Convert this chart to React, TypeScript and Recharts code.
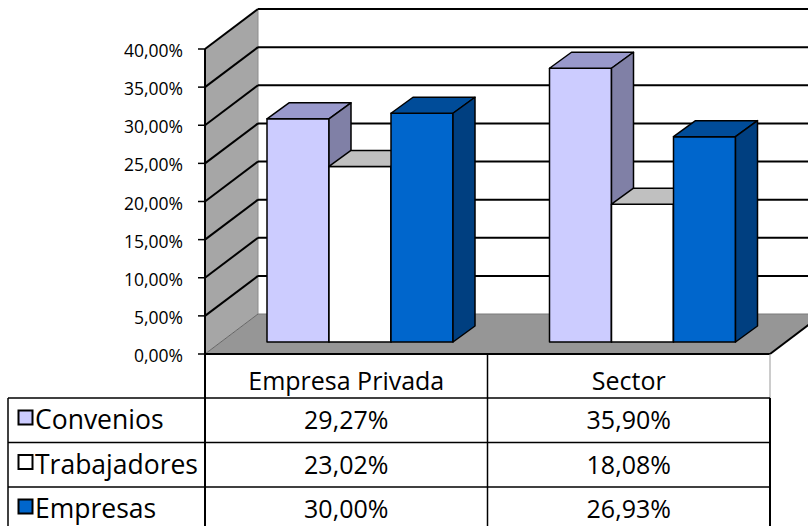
import { BarChart, Bar, XAxis, YAxis, CartesianGrid } from 'recharts'

const categories = ['Empresa Privada', 'Sector']
const convenios = [29.27, 35.9]
const trabajadores = [23.02, 18.08]
const empresas = [30.0, 26.93]
const yTicks = [0, 5, 10, 15, 20, 25, 30, 35, 40]

const seriesNames = ['Convenios', 'Trabajadores', 'Empresas']
const seriesKeys = ['convenios', 'trabajadores', 'empresas']
const seriesValues = [convenios, trabajadores, empresas]
// front, top, side
const seriesColors = [
  ['#CCCCFF', '#9999CC', '#8080A6'],
  ['#FFFFFF', '#C0C0C0', '#A0A0A0'],
  ['#0066CC', '#004C99', '#003F80'],
]

const W = 808
const H = 526
const Y_AXIS_W = 60
const MARGIN = { top: 37, right: 24, bottom: 0, left: 159 }
const X_AXIS_H = 184
const PLOT_LEFT = MARGIN.left + Y_AXIS_W
const PLOT_RIGHT = W - MARGIN.right
const PLOT_TOP = MARGIN.top
const PLOT_BOTTOM = H - X_AXIS_H

// offsets of front and back planes relative to the plane the bars sit in
const FRONT_DX = -14
const FRONT_DY = 12
const BACK_DX = 39
const BACK_DY = -28
// bar depth
const BAR_DX = 22
const BAR_DY = 16

const HEADER_TOP = PLOT_BOTTOM + FRONT_DY
const ROW_TOP = 398
const ROW_H = 44.5
const FONT = '"Open Sans", sans-serif'

function pct(v: number) {
  return v.toFixed(2).replace('.', ',') + '%'
}

const chartData = categories.map((c, i) => ({
  category: c,
  convenios: convenios[i],
  trabajadores: trabajadores[i],
  empresas: empresas[i],
}))

function Box3D(props: any) {
  const { x, y, width, height, colors } = props
  if (width == null || height == null) return null
  const [front, top, side] = colors
  const stroke = { stroke: '#000', strokeWidth: 1.5, strokeLinejoin: 'round' as const }
  return (
    <g>
      <rect x={x} y={y} width={width} height={height} fill={front} {...stroke} />
      <polygon
        points={`${x},${y} ${x + BAR_DX},${y - BAR_DY} ${x + width + BAR_DX},${y - BAR_DY} ${x + width},${y}`}
        fill={top}
        {...stroke}
      />
      <polygon
        points={`${x + width},${y} ${x + width + BAR_DX},${y - BAR_DY} ${x + width + BAR_DX},${y + height - BAR_DY} ${x + width},${y + height}`}
        fill={side}
        {...stroke}
      />
    </g>
  )
}

// walls and floor, drawn once from the baseline grid line
function WallLine(props: any) {
  const { y1 } = props
  if (Math.abs(y1 - PLOT_BOTTOM) > 1) return <g />
  const fl = PLOT_LEFT + FRONT_DX
  const fr = PLOT_RIGHT + FRONT_DX
  const bl = PLOT_LEFT + BACK_DX
  const br = PLOT_RIGHT + BACK_DX
  const fTop = PLOT_TOP + FRONT_DY
  const fBot = PLOT_BOTTOM + FRONT_DY
  const bTop = PLOT_TOP + BACK_DY
  const bBot = PLOT_BOTTOM + BACK_DY
  return (
    <g>
      <polygon points={`${fl},${fTop} ${bl},${bTop} ${bl},${bBot} ${fl},${fBot}`} fill="#A6A6A6" />
      <line x1={bl} y1={bTop} x2={bl} y2={bBot} stroke="#8C8C8C" strokeWidth={1} />
      <polygon points={`${fl},${fBot} ${bl},${bBot} ${br},${bBot} ${fr},${fBot}`} fill="#969696" />
      <line x1={fl} y1={fBot} x2={bl} y2={bBot} stroke="#666" strokeWidth={1} />
      <line x1={bl} y1={bBot} x2={br} y2={bBot} stroke="#7A7A7A" strokeWidth={1} />
      <line x1={fl} y1={fBot} x2={fr} y2={fBot} stroke="#000" strokeWidth={2} />
      <line x1={fr} y1={fBot} x2={br} y2={bBot} stroke="#000" strokeWidth={2} />
      <line x1={fl} y1={fTop} x2={fl} y2={fBot} stroke="#000" strokeWidth={2} />
    </g>
  )
}

function GridLine(props: any) {
  const { x1, x2, y1 } = props
  if (Math.abs(y1 - PLOT_BOTTOM) < 1) return <g />
  return (
    <g>
      <line x1={x1 + FRONT_DX} y1={y1 + FRONT_DY} x2={x1 + BACK_DX} y2={y1 + BACK_DY} stroke="#000" strokeWidth={2} />
      <line x1={x1 + BACK_DX} y1={y1 + BACK_DY} x2={x2 + BACK_DX} y2={y1 + BACK_DY} stroke="#000" strokeWidth={2} />
    </g>
  )
}

function YTick(props: any) {
  const { y, payload } = props
  const fy = y + FRONT_DY
  const fx = PLOT_LEFT + FRONT_DX
  return (
    <g>
      <line x1={fx - 7} y1={fy} x2={fx} y2={fy} stroke="#000" strokeWidth={1.5} />
      <text x={fx - 22} y={fy + 8} textAnchor="end" fontSize={17.5} fill="#000" fontFamily={FONT}>
        {pct(payload.value)}
      </text>
    </g>
  )
}

function TableColumn(props: any) {
  const { x, payload } = props
  const i = payload.index
  const band = (PLOT_RIGHT - PLOT_LEFT) / categories.length
  const cx = x + FRONT_DX
  const left = cx - band / 2
  const right = cx + band / 2
  const last = i === categories.length - 1
  const rows = seriesNames.map((_, r) => ROW_TOP + r * ROW_H)
  return (
    <g fontFamily={FONT} fill="#000">
      {last ? (
        <>
          <line x1={right} y1={HEADER_TOP} x2={right} y2={ROW_TOP} stroke="#999" strokeWidth={1} />
          <line x1={right} y1={ROW_TOP} x2={right} y2={H} stroke="#000" strokeWidth={2} />
        </>
      ) : (
        <line x1={right} y1={HEADER_TOP} x2={right} y2={H} stroke="#000" strokeWidth={1.5} />
      )}
      {rows.map(ry => (
        <line key={ry} x1={left} y1={ry} x2={right} y2={ry} stroke="#000" strokeWidth={1.5} />
      ))}
      <text x={cx} y={HEADER_TOP + 36} textAnchor="middle" fontSize={25}>
        {categories[i]}
      </text>
      {seriesValues.map((vals, r) => (
        <text key={r} x={cx} y={rows[r] + 31} textAnchor="middle" fontSize={25}>
          {pct(vals[i])}
        </text>
      ))}
      {i === 0 && (
        <g>
          <line x1={left} y1={HEADER_TOP} x2={left} y2={H} stroke="#000" strokeWidth={2} />
          <line x1={8} y1={ROW_TOP} x2={8} y2={H} stroke="#000" strokeWidth={1.5} />
          {rows.map(ry => (
            <line key={ry} x1={8} y1={ry} x2={left} y2={ry} stroke="#000" strokeWidth={1.5} />
          ))}
          {seriesNames.map((name, r) => (
            <g key={name}>
              <rect
                x={18.5}
                y={rows[r] + 12.5}
                width={14}
                height={14}
                fill={seriesColors[r][0]}
                stroke="#000"
                strokeWidth={2}
              />
              <text x={35} y={rows[r] + 31} fontSize={26.5}>
                {name}
              </text>
            </g>
          ))}
        </g>
      )}
    </g>
  )
}

export default function App() {
  return (
    <div style={{ width: W, height: H, fontFamily: FONT, background: '#fff' }}>
      <style>{'body{margin:0}'}</style>
      <BarChart width={W} height={H} data={chartData} margin={MARGIN} barGap={0} barCategoryGap={48}>
        <CartesianGrid vertical={false} horizontal={WallLine} />
        <CartesianGrid vertical={false} horizontal={GridLine} />
        <XAxis
          dataKey="category"
          height={X_AXIS_H}
          axisLine={false}
          tickLine={false}
          interval={0}
          tick={TableColumn}
        />
        <YAxis
          width={Y_AXIS_W}
          domain={[0, 40]}
          ticks={yTicks}
          axisLine={false}
          tickLine={false}
          tick={YTick}
        />
        {seriesKeys.map((k, s) => (
          <Bar
            key={k}
            dataKey={k}
            name={seriesNames[s]}
            fill={seriesColors[s][0]}
            isAnimationActive={false}
            shape={(p: any) => <Box3D {...p} colors={seriesColors[s]} />}
          />
        ))}
      </BarChart>
    </div>
  )
}
